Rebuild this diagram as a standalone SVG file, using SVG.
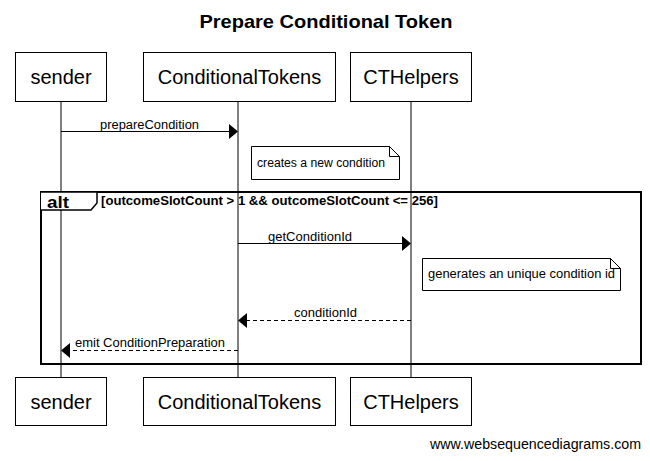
<svg xmlns="http://www.w3.org/2000/svg" width="650" height="461" viewBox="0 0 650 461">
<style>
.box{fill:#fff;stroke:#000;stroke-width:1}
.actor{font-family:"Liberation Sans",Arial,sans-serif;font-size:20px;text-anchor:middle;fill:#000}
.msg{font-family:"Liberation Sans",Arial,sans-serif;font-size:12px;fill:#000}
.life{stroke:#000;stroke-width:1}
.line{stroke:#000;stroke-width:1;fill:none}
.dash{stroke:#000;stroke-width:1;fill:none;stroke-dasharray:4,3}
.head{fill:#000}
.note{fill:#fff;stroke:#000;stroke-width:1}
</style>
<rect width="650" height="461" fill="#fff"/>
<text x="326" y="28" font-family="Liberation Sans,Arial,sans-serif" font-size="19" font-weight="bold" text-anchor="middle" textLength="253" lengthAdjust="spacingAndGlyphs">Prepare Conditional Token</text>
<g id="lifelines">
<line class="life" x1="61" y1="102" x2="61" y2="377"/>
<line class="life" x1="238" y1="102" x2="238" y2="377"/>
<line class="life" x1="411" y1="102" x2="411" y2="377"/>
</g>
<g id="sender">
<rect class="box" x="15.5" y="52.5" width="91" height="49"/>
<text class="actor" x="61" y="84">sender</text>
<rect class="box" x="15.5" y="377.5" width="91" height="48"/>
<text class="actor" x="61" y="409">sender</text>
</g>
<g id="ConditionalTokens">
<rect class="box" x="143.5" y="52.5" width="192" height="49"/>
<text class="actor" x="239.5" y="84">ConditionalTokens</text>
<rect class="box" x="143.5" y="377.5" width="192" height="48"/>
<text class="actor" x="239.5" y="409">ConditionalTokens</text>
</g>
<g id="CTHelpers">
<rect class="box" x="350.5" y="52.5" width="121" height="49"/>
<text class="actor" x="411" y="84">CTHelpers</text>
<rect class="box" x="350.5" y="377.5" width="121" height="48"/>
<text class="actor" x="411" y="409">CTHelpers</text>
</g>
<g id="note1">
<path class="note" d="M251.5,146.5 H389.5 L399.5,156.5 V179.5 H251.5 Z"/>
<path class="line" d="M389.5,146.5 V156.5 H399.5"/>
<text class="msg" x="257" y="167" textLength="128" lengthAdjust="spacingAndGlyphs">creates a new condition</text>
</g>
<g id="alt">
<rect x="41" y="192" width="600" height="172" fill="none" stroke="#000" stroke-width="2"/>
<path d="M41,192 H97 V203 L91,210 H41" fill="#fff" stroke="#000" stroke-width="1.5"/>
<text x="47" y="208" font-family="Liberation Sans,Arial,sans-serif" font-size="16" font-weight="bold" textLength="22" lengthAdjust="spacingAndGlyphs">alt</text>
<text x="101" y="205" font-family="Liberation Sans,Arial,sans-serif" font-size="12" font-weight="bold" textLength="337" lengthAdjust="spacingAndGlyphs">[outcomeSlotCount &gt; 1 &amp;&amp; outcomeSlotCount &lt;= 256]</text>
</g>
<g id="note2">
<path class="note" d="M422.5,258.5 H610.5 L620.5,268.5 V290.5 H422.5 Z"/>
<path class="line" d="M610.5,258.5 V268.5 H620.5"/>
<text class="msg" x="428" y="278" textLength="187" lengthAdjust="spacingAndGlyphs">generates an unique condition id</text>
</g>
<g id="connectors">
<line class="line" x1="61" y1="131.5" x2="230" y2="131.5"/>
<polygon class="head" points="238,131.5 229,124 229,139"/>
<text class="msg" x="100" y="129" textLength="99" lengthAdjust="spacingAndGlyphs">prepareCondition</text>
<line class="line" x1="238" y1="243.5" x2="403" y2="243.5"/>
<polygon class="head" points="411,243.5 402,236 402,251"/>
<text class="msg" x="268" y="241" textLength="84" lengthAdjust="spacingAndGlyphs">getConditionId</text>
<line class="dash" x1="411" y1="320.5" x2="246" y2="320.5"/>
<polygon class="head" points="238,320.5 247,313 247,328"/>
<text class="msg" x="294" y="317" textLength="63" lengthAdjust="spacingAndGlyphs">conditionId</text>
<line class="dash" x1="238" y1="350.5" x2="69" y2="350.5"/>
<polygon class="head" points="61,350.5 70,343 70,358"/>
<text class="msg" x="75" y="347" textLength="150" lengthAdjust="spacingAndGlyphs">emit ConditionPreparation</text>
</g>
<text x="430" y="449" font-family="Liberation Sans,Arial,sans-serif" font-size="14" textLength="211" lengthAdjust="spacingAndGlyphs">www.websequencediagrams.com</text>
</svg>
